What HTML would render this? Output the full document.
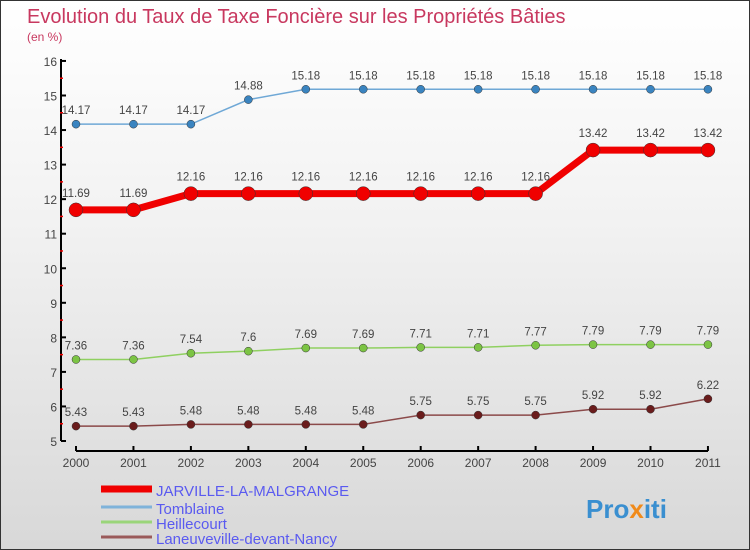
<!DOCTYPE html>
<html><head><meta charset="utf-8"><style>
body{margin:0}
#c{width:750px;height:550px;position:relative;box-sizing:border-box;border:1px solid #333;background:linear-gradient(#fff 0%,#f2f2f2 40%,#d8d8d8 100%);font-family:"Liberation Sans",sans-serif;overflow:hidden}
</style></head><body>
<div id="c">
<svg width="750" height="550" id="s">
<text x="26" y="22" font-size="20" fill="#c8385f">Evolution du Taux de Taxe Foncière sur les Propriétés Bâties</text>
<text x="26" y="40" font-size="12" fill="#c8385f">(en %)</text>
<text x="585" y="517" font-size="26" font-weight="bold" fill="#3a8fd0">Pro<tspan fill="#f08a1a">x</tspan>iti</text>
</svg>
</div>
<script>
const years=[2000,2001,2002,2003,2004,2005,2006,2007,2008,2009,2010,2011];
const jarville=[11.69,11.69,12.16,12.16,12.16,12.16,12.16,12.16,12.16,13.42,13.42,13.42];
const tomblaine=[14.17,14.17,14.17,14.88,15.18,15.18,15.18,15.18,15.18,15.18,15.18,15.18];
const heillecourt=[7.36,7.36,7.54,7.6,7.69,7.69,7.71,7.71,7.77,7.79,7.79,7.79];
const laneuveville=[5.43,5.43,5.48,5.48,5.48,5.48,5.75,5.75,5.75,5.92,5.92,6.22];
const yTicks=[5,6,7,8,9,10,11,12,13,14,15,16];
const seriesNames=["JARVILLE-LA-MALGRANGE","Tomblaine","Heillecourt","Laneuveville-devant-Nancy"];
const NS="http://www.w3.org/2000/svg",s=document.getElementById('s');
const xs=i=>75+i*57.45, ys=v=>440-(v-5)*34.55;
function mk(t,a){const e=document.createElementNS(NS,t);for(const k in a)e.setAttribute(k,a[k]);s.appendChild(e);return e;}
let e=mk('line',{x1:60,y1:58,x2:60,y2:440,stroke:'#000','stroke-width':2});

e=mk('line',{x1:75,y1:450,x2:707,y2:450,stroke:'#000','stroke-width':2});

yTicks.forEach(v=>{
 mk('line',{x1:60,y1:ys(v),x2:65,y2:ys(v),stroke:'#000','stroke-width':2});
 if(v<16)mk('line',{x1:59,y1:ys(v+0.5),x2:62,y2:ys(v+0.5),stroke:'#e00','stroke-width':1.5});
 const t=mk('text',{x:56,y:ys(v)+5,'font-size':12,fill:'#444','text-anchor':'end'});t.textContent=v;
 
});
years.forEach((y,i)=>{
 mk('line',{x1:xs(i),y1:445,x2:xs(i),y2:450,stroke:'#000','stroke-width':2});
 const t=mk('text',{x:xs(i),y:466,'font-size':12,fill:'#444','text-anchor':'middle'});t.textContent=y;
 
});
function series(d,col,dot,w,r,name){
 const p=mk('polyline',{points:d.map((v,i)=>xs(i)+','+ys(v)).join(' '),fill:'none',stroke:col,'stroke-width':w});
 
 d.forEach((v,i)=>{
  const c=mk('circle',{cx:xs(i),cy:ys(v),r:r,fill:dot,stroke:'#333','stroke-width':0.5});
  
  const t=mk('text',{x:xs(i),y:ys(v)-(r+6),'font-size':11.5,fill:'#444','text-anchor':'middle'});t.textContent=v;
  
 });
}
series(tomblaine,'#6fa8d6','#3a84c0',1.5,4,'tomblaine');
series(heillecourt,'#8fd060','#7cc444',1.5,4,'heillecourt');
series(laneuveville,'#8b4a4a','#6a1c1c',1.5,4,'laneuveville');
series(jarville,'#f00000','#f00000',7,7,'jarville');
const lc=['#f00000','#7fb3da','#9ad57a','#9a5a5a'],lw=[7,3,3,3],ly=[490,508,523,538];
seriesNames.forEach((n,i)=>{
 const l=mk('line',{x1:100,y1:ly[i]-2,x2:151,y2:ly[i]-2,stroke:lc[i],'stroke-width':lw[i]});
 
 const t=mk('text',{x:155,y:ly[i]+5,'font-size':15,fill:'#5a5af0'});t.textContent=n;
 
});
</script>
</body></html>
